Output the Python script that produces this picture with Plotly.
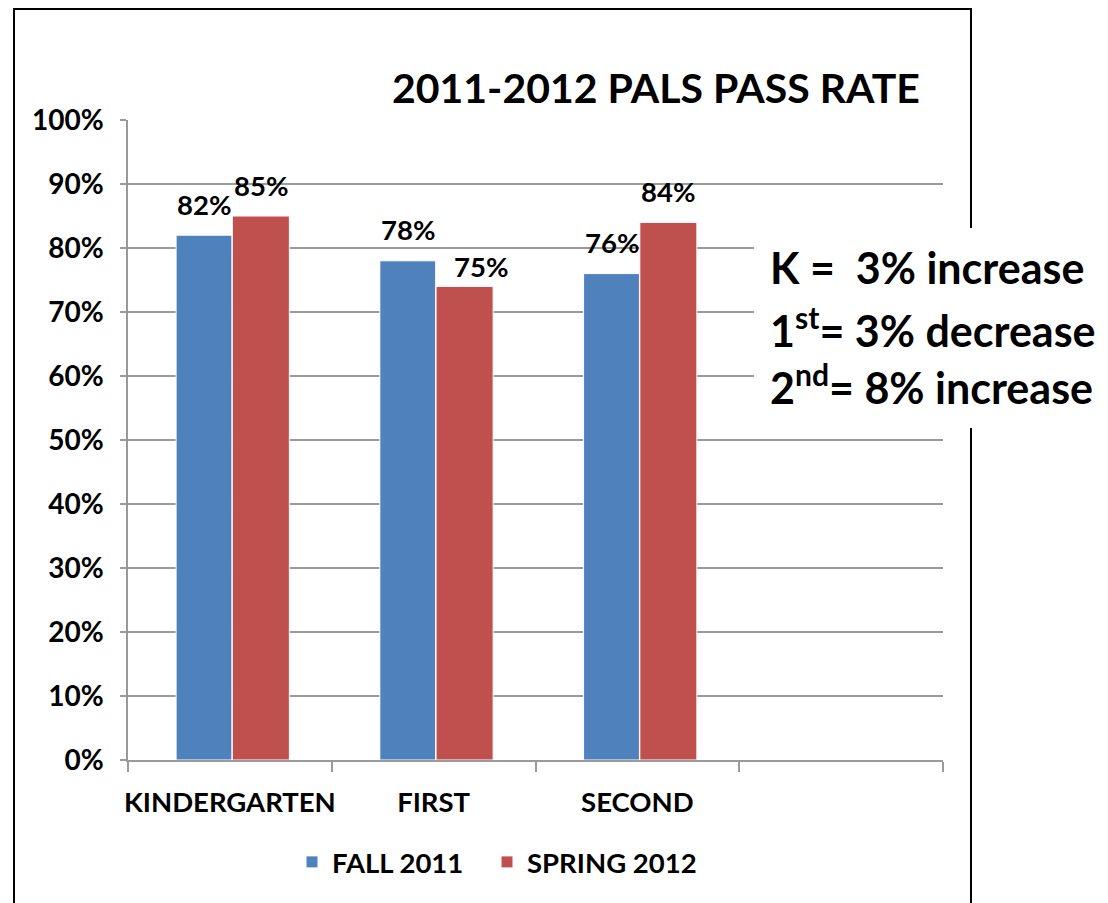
import plotly.graph_objects as go

categories = ["KINDERGARTEN", "FIRST", "SECOND", " "]
fall_2011 = [0.82, 0.78, 0.76, None]
spring_2012 = [0.85, 0.74, 0.84, None]
fall_labels = ["82%", "78%", "76%", ""]
spring_labels = ["85%", "75%", "84%", ""]
series_names = ["FALL 2011", "SPRING 2012"]
title_text = "2011-2012 PALS PASS RATE"
note_lines = ["K =  3% increase", "1<sup>st</sup>= 3% decrease", "2<sup>nd</sup>= 8% increase"]

BLUE = "#4F81BD"
RED = "#C0504D"
GRID = "#9a9a9a"
FONT = "Lato"

OFF = 8  # page body margin
W, H = 1108 - OFF, 903 - OFF
L, R, T, B = 128, 943, 120, 760  # plot area in page px


def px(xp):
    return (xp - L) / (R - L)


def py(yp):
    return (B - yp) / (B - T)


fig = go.Figure()
fig.add_trace(go.Bar(x=categories, y=fall_2011, name=series_names[0],
                     offset=-0.264, width=0.274, legend="legend",
                     marker=dict(color=BLUE, line=dict(color="white", width=1))))
fig.add_trace(go.Bar(x=categories, y=spring_2012, name=series_names[1],
                     offset=0.012, width=0.28, legend="legend2",
                     marker=dict(color=RED, line=dict(color="white", width=1))))

bold = dict(family=FONT, weight="bold", color="black")

annotations = []
# manual nudge for the one label moved by hand in the original
nudges = {("FIRST", 1): (16, -11)}
for si, (vals, labs) in enumerate([(fall_2011, fall_labels), (spring_2012, spring_labels)]):
    for c, v, t in zip(categories, vals, labs):
        if v is None:
            continue
        dx, dy = nudges.get((c, si), (0, 0))
        annotations.append(dict(x=c, y=v, xref="x", yref="y", text=t, showarrow=False,
                                xshift=(-25.8 if si == 0 else 31) + dx, yshift=31 + dy,
                                font=dict(size=27.5, **bold)))

annotations.append(dict(x=px(656), y=py(88), xref="paper", yref="paper", text=title_text,
                        showarrow=False, xanchor="center", yanchor="middle",
                        font=dict(size=41, **bold)))

for i, (line, yc) in enumerate(zip(note_lines, [267, 327, 384])):
    annotations.append(dict(x=px(768), y=py(yc), xref="paper", yref="paper", text=line,
                            showarrow=False, xanchor="left", yanchor="middle",
                            font=dict(size=43, **bold)))

shapes = [
    dict(type="rect", xref="paper", yref="paper", x0=px(14), x1=px(971), y0=py(915), y1=py(9),
         line=dict(color="black", width=2), fillcolor="rgba(0,0,0,0)", layer="above"),
    dict(type="rect", xref="paper", yref="paper", x0=px(754), x1=px(1120), y0=py(428), y1=py(228),
         line=dict(width=0), fillcolor="white", layer="above"),
]

legend_common = dict(orientation="h", y=py(862), xanchor="left", yanchor="middle",
                     font=dict(size=27.5, **bold), bgcolor="rgba(0,0,0,0)")

fig.update_layout(
    width=W, height=H,
    margin=dict(l=L - OFF, r=W - (R - OFF), t=T - OFF, b=H - (B - OFF), pad=0, autoexpand=False),
    paper_bgcolor="white", plot_bgcolor="white",
    barmode="group",
    showlegend=True,
    legend=dict(x=px(292), **legend_common),
    legend2=dict(x=px(487), **legend_common),
    annotations=annotations,
    shapes=shapes,
    xaxis=dict(categoryorder="array", categoryarray=categories, range=[-0.5, 3.5],
               showline=True, linecolor=GRID, linewidth=1.5, ticks="outside",
               tickson="boundaries", ticklen=10, tickcolor=GRID, tickwidth=1.5,
               showgrid=False, tickfont=dict(size=27.5, **bold), ticklabelstandoff=17,
               tickangle=0, automargin=False, fixedrange=True),
    yaxis=dict(range=[0, 1], dtick=0.1, tickformat=".0%", showline=True, linecolor=GRID,
               linewidth=1.5, ticks="outside", ticklen=6, tickcolor=GRID, tickwidth=1.5,
               showgrid=True, gridcolor=GRID, gridwidth=1.5, zeroline=False,
               tickfont=dict(size=28, **bold), ticklabelstandoff=11, automargin=False,
               fixedrange=True),
)

fig.write_html("out.html")
